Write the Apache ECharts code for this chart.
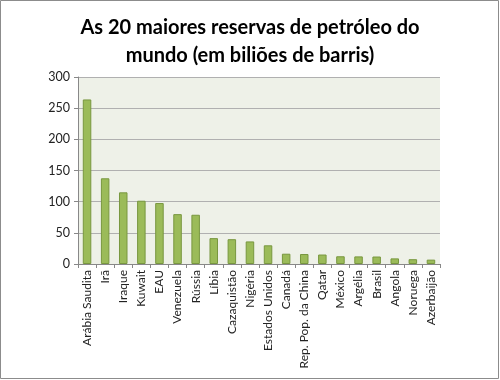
<!DOCTYPE html>
<html><head><meta charset="utf-8">
<script src="https://cdn.jsdelivr.net/npm/echarts@6/dist/echarts.min.js"></script>
<style>html,body{margin:0;padding:0;background:#fff}#c{width:500px;height:380px}</style>
</head><body><div id="c"></div>
<script>
const categories = ["Arábia Saudita","Irã","Iraque","Kuwait","EAU","Venezuela","Rússia","Líbia","Cazaquistão","Nigéria","Estados Unidos","Canadá","Rep. Pop. da China","Qatar","México","Argélia","Brasil","Angola","Noruega","Azerbaijão"];
const reserves = [264, 137.5, 115, 101.5, 97.8, 80, 79, 41.5, 39.8, 36.2, 30, 16.5, 16, 15.2, 12.4, 12.2, 12, 9, 7.7, 7];
const yTicks = {min: 0, max: 300, interval: 50};
const titleText = "As 20 maiores reservas de petróleo do\nmundo (em biliões de barris)";

const chart = echarts.init(document.getElementById('c'), null, {renderer: 'canvas'});
chart.setOption({
  animation: false,
  backgroundColor: '#fff',
  title: {
    text: titleText, left: 'center', top: 9,
    textStyle: {fontFamily: 'Lato', fontWeight: 'bold', fontSize: 20, color: '#000', lineHeight: 28}
  },
  graphic: [{type: 'rect', shape: {x: 0.5, y: 0.5, width: 498, height: 378}, style: {fill: 'none', stroke: '#8c8c8c', lineWidth: 1}}],
  grid: {left: 78, right: 60, top: 77, bottom: 116, backgroundColor: '#eef1e8', show: true, borderWidth: 0},
  xAxis: {
    type: 'category', data: categories,
    axisLine: {lineStyle: {color: '#888'}},
    axisTick: {show: true, alignWithLabel: false, length: 4, lineStyle: {color: '#888'}},
    axisLabel: {rotate: 90, interval: 0, fontFamily: 'Lato', fontSize: 12, color: '#222', margin: 6}
  },
  yAxis: {
    type: 'value', min: yTicks.min, max: yTicks.max, interval: yTicks.interval,
    axisLine: {show: true, lineStyle: {color: '#888'}},
    axisTick: {show: true, length: 4, lineStyle: {color: '#888'}},
    splitLine: {lineStyle: {color: '#b0b0b0'}},
    axisLabel: {fontFamily: 'Lato', fontSize: 12.5, color: '#222', margin: 8}
  },
  series: [{
    type: 'bar', data: reserves, barWidth: '47%',
    itemStyle: {color: '#9bbb59', borderColor: '#78973f', borderWidth: 1}
  }]
});
</script></body></html>
